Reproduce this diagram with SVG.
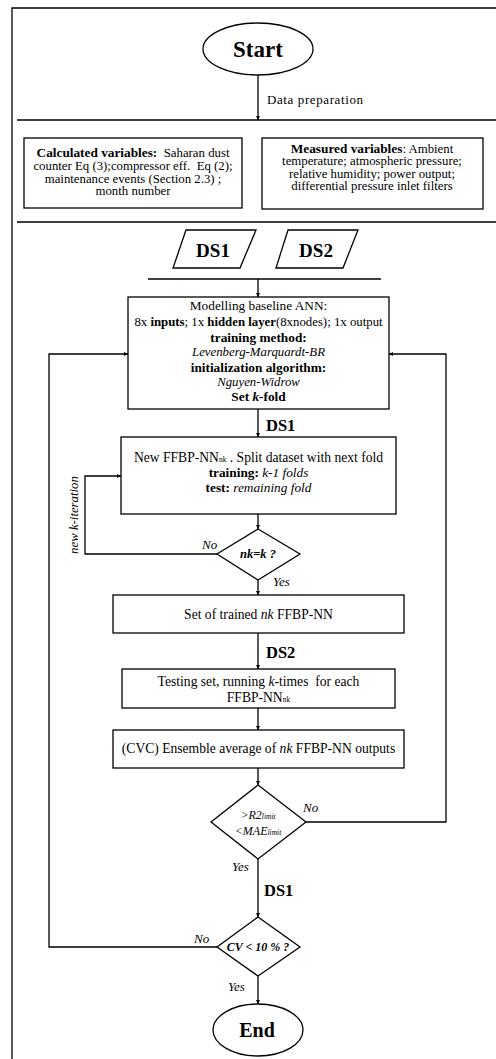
<svg xmlns="http://www.w3.org/2000/svg" width="496" height="1059" viewBox="0 0 496 1059">
<defs>
<marker id="ah" viewBox="0 0 6 6" refX="6" refY="3" markerWidth="4" markerHeight="4" orient="auto" markerUnits="userSpaceOnUse">
<path d="M0,0 L6,3 L0,6 Z" fill="#000"/>
</marker>
</defs>
<style>
.s{fill:#fff;stroke:#000;stroke-width:1.3}
.c{fill:none;stroke:#000;stroke-width:1.3}
.a{marker-end:url(#ah)}
text{font-family:"Liberation Serif","Times New Roman",serif;fill:#000;white-space:pre}
.m{text-anchor:middle}
.t{font-size:12.8px}
.u{font-size:13.3px}
.L{font-size:13.6px}
.b{font-weight:bold}
.i{font-style:italic}
.sub{font-size:7.5px}
.yn{font-size:13px;font-style:italic}
</style>
<rect width="496" height="1059" fill="#fff"/>
<g id="frame">
<path class="c" d="M12,1059 V8 H496" stroke-width="1.5"/>
<path class="c" d="M17,120 H496 M17,222 H496"/>
</g>
<g id="connectors">
<path class="c a" d="M258,75 V120"/>
<path class="c" d="M148,279 H381"/>
<path class="c a" d="M258,279 V297"/>
<path class="c a" d="M258,409 V437"/>
<path class="c a" d="M258,514 V529"/>
<path class="c a" d="M217,554 H85 V476 H121"/>
<path class="c a" d="M258,580 V595"/>
<path class="c a" d="M258,633 V669"/>
<path class="c a" d="M258,708 V730"/>
<path class="c a" d="M258,768 V785"/>
<path class="c a" d="M306,822 H446 V354 H389"/>
<path class="c a" d="M258,859 V917"/>
<path class="c a" d="M217,947 H49 V354 H128"/>
<path class="c a" d="M258,976 V1004"/>
<text x="267" y="104" style="font-size:13px;letter-spacing:0.6px">Data preparation</text>
<text x="266" y="431" class="b" style="font-size:16.5px">DS1</text>
<text x="266" y="658" class="b" style="font-size:16.5px">DS2</text>
<text x="264" y="896" class="b" style="font-size:16.5px">DS1</text>
<text x="202" y="549" class="yn">No</text>
<text x="273" y="586" class="yn">Yes</text>
<text x="303" y="812" class="yn">No</text>
<text x="232" y="871" class="yn">Yes</text>
<text x="194" y="943" class="yn">No</text>
<text x="228" y="991" class="yn">Yes</text>
<text transform="translate(78,515) rotate(-90)" class="m i t">new k-iteration</text>
</g>
<g id="start">
<ellipse class="s" cx="258" cy="49" rx="55" ry="26"/>
<text x="258" y="57" class="m b" style="font-size:23px">Start</text>
</g>
<g id="calculated">
<rect class="s" x="24" y="138" width="218" height="70"/>
<text class="m t" x="133" y="157"><tspan class="b" style="font-size:13.3px">Calculated variables:</tspan>  Saharan dust</text>
<text class="m t" x="133" y="170">counter Eq (3);compressor eff.  Eq (2);</text>
<text class="m t" x="133" y="183">maintenance events (Section 2.3) ;</text>
<text class="m t" x="133" y="195">month number</text>
</g>
<g id="measured">
<rect class="s" x="262" y="138" width="221" height="71"/>
<text class="m t" x="372" y="152.5"><tspan class="b" style="font-size:13.3px">Measured variables</tspan>: Ambient</text>
<text class="m t" x="372" y="165">temperature; atmospheric pressure;</text>
<text class="m t" x="372" y="177.5">relative humidity; power output;</text>
<text class="m t" x="372" y="190">differential pressure inlet filters</text>
</g>
<g id="ds1">
<polygon class="s" points="186,230 256,230 240,268 173,268"/>
<text x="213" y="257" class="m b" style="font-size:19px">DS1</text>
</g>
<g id="ds2">
<polygon class="s" points="288,230 358,230 343,268 276,268"/>
<text x="316" y="257" class="m b" style="font-size:19px">DS2</text>
</g>
<g id="modelling">
<rect class="s" x="128" y="297" width="261" height="112"/>
<text class="m u" x="258.5" y="310">Modelling baseline ANN:</text>
<text class="m t" x="258.5" y="326">8x <tspan class="b">inputs</tspan>; 1x <tspan class="b">hidden layer</tspan>(8xnodes); 1x output</text>
<text class="m u b" x="258.5" y="342">training method:</text>
<text class="m t i" x="258.5" y="356">Levenberg-Marquardt-BR</text>
<text class="m u b" x="258.5" y="372">initialization algorithm:</text>
<text class="m t i" x="258.5" y="386">Nguyen-Widrow</text>
<text class="m u b" x="258.5" y="401">Set <tspan class="i">k</tspan>-fold</text>
</g>
<g id="newffbp">
<rect class="s" x="121" y="437" width="275" height="77"/>
<text class="m L" x="258.5" y="462">New FFBP-NN<tspan class="sub">nk</tspan> . Split dataset with next fold</text>
<text class="m u" x="258.5" y="477"><tspan class="b">training:</tspan> <tspan class="i">k-1 folds</tspan></text>
<text class="m u" x="258.5" y="492"><tspan class="b">test:</tspan> <tspan class="i">remaining fold</tspan></text>
</g>
<g id="check-nk">
<polygon class="s" points="258,529 300,554 258,580 217,554"/>
<text class="m b i" x="258" y="558" style="font-size:12.5px">nk=k ?</text>
</g>
<g id="trained">
<rect class="s" x="113" y="595" width="291" height="38"/>
<text class="m L" x="258.5" y="619">Set of trained <tspan class="i">nk</tspan> FFBP-NN</text>
</g>
<g id="testing">
<rect class="s" x="122" y="669" width="273" height="39"/>
<text class="m L" x="258.5" y="686">Testing set, running <tspan class="i">k</tspan>-times  for each</text>
<text class="m L" x="258.5" y="702">FFBP-NN<tspan class="sub">nk</tspan></text>
</g>
<g id="ensemble">
<rect class="s" x="113" y="730" width="291" height="38"/>
<text class="m L" x="258.5" y="753">(CVC) Ensemble average of <tspan class="i">nk</tspan> FFBP-NN outputs</text>
</g>
<g id="check-r2">
<polygon class="s" points="258,785 306,822 258,859 211,822"/>
<text class="m i" x="258" y="819" style="font-size:12px">&gt;R2<tspan class="sub">limit</tspan></text>
<text class="m i" x="258" y="835" style="font-size:12px">&lt;MAE<tspan class="sub">limit</tspan></text>
</g>
<g id="check-cv">
<polygon class="s" points="258,917 300,947 258,976 217,947"/>
<text class="m b i" x="258" y="951" style="font-size:12px">CV &lt; 10 % ?</text>
</g>
<g id="end">
<ellipse class="s" cx="258" cy="1030" rx="45" ry="26"/>
<text x="257" y="1037" class="m b" style="font-size:20px">End</text>
</g>
</svg>
